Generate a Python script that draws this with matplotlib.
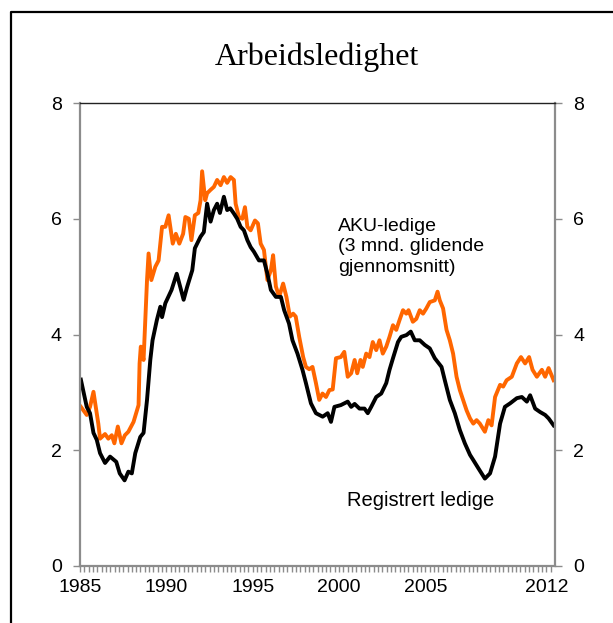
import matplotlib
matplotlib.use("Agg")
import matplotlib.pyplot as plt
from matplotlib.lines import Line2D

plt.rcParams['font.family'] = ['Liberation Sans', 'DejaVu Sans']

# registrert ledige (black)
reg_year = [1985.05, 1985.39, 1985.58, 1985.78, 1985.97, 1986.16, 1986.45, 1986.74, 1987.1, 1987.3,
            1987.58, 1987.8, 1988.0, 1988.2, 1988.49, 1988.68, 1988.88, 1989.07, 1989.2, 1989.45,
            1989.65, 1989.75, 1989.94, 1990.3, 1990.6, 1991.0, 1991.2, 1991.5, 1991.65, 1991.98,
            1992.17, 1992.36, 1992.56, 1992.75, 1992.94, 1993.1, 1993.33, 1993.52, 1993.7, 1993.91,
            1994.1, 1994.3, 1994.49, 1994.69, 1994.88, 1995.07, 1995.36, 1995.65, 1995.85, 1996.05,
            1996.34, 1996.63, 1996.82, 1997.1, 1997.3, 1997.59, 1997.88, 1998.08, 1998.37, 1998.66,
            1999.05, 1999.34, 1999.53, 1999.73, 2000.1, 2000.5, 2000.7, 2000.9, 2001.18, 2001.47,
            2001.66, 2001.86, 2002.15, 2002.44, 2002.73, 2002.92, 2003.12, 2003.41, 2003.6, 2003.9,
            2004.15, 2004.38, 2004.67, 2004.96, 2005.25, 2005.54, 2005.93, 2006.12, 2006.41, 2006.7,
            2006.99, 2007.28, 2007.58, 2007.77, 2008.06, 2008.44, 2008.74, 2009.03, 2009.32, 2009.6,
            2009.9, 2010.29, 2010.58, 2010.87, 2011.06, 2011.35, 2011.64, 2011.93, 2012.13, 2012.42]
reg_val = [3.22, 2.75, 2.64, 2.3, 2.18, 1.95, 1.78, 1.89, 1.8, 1.6,
           1.48, 1.63, 1.6, 1.95, 2.23, 2.3, 2.87, 3.56, 3.9, 4.25,
           4.48, 4.3, 4.54, 4.77, 5.05, 4.6, 4.82, 5.11, 5.49, 5.69,
           5.77, 6.26, 5.95, 6.15, 6.26, 6.1, 6.38, 6.15, 6.18, 6.09,
           6.0, 5.86, 5.8, 5.63, 5.51, 5.43, 5.28, 5.28, 5.05, 4.77,
           4.65, 4.65, 4.42, 4.19, 3.9, 3.67, 3.39, 3.16, 2.81, 2.64,
           2.58, 2.64, 2.49, 2.75, 2.78, 2.84, 2.75, 2.8, 2.72, 2.72,
           2.64, 2.75, 2.92, 2.98, 3.16, 3.39, 3.59, 3.87, 3.96, 3.99,
           4.05, 3.9, 3.9, 3.82, 3.76, 3.59, 3.44, 3.21, 2.87, 2.64,
           2.35, 2.12, 1.92, 1.83, 1.69, 1.51, 1.6, 1.89, 2.46, 2.75,
           2.81, 2.9, 2.92, 2.84, 2.95, 2.72, 2.66, 2.61, 2.55, 2.43]

# AKU-ledige, 3 mnd. glidende gjennomsnitt (orange)
aku_year = [1985.05, 1985.39, 1985.58, 1985.78, 1986.06, 1986.16, 1986.45, 1986.64, 1986.84, 1986.99,
            1987.19, 1987.4, 1987.6, 1987.8, 1988.1, 1988.39, 1988.45, 1988.52, 1988.68, 1988.88,
            1988.97, 1989.13, 1989.36, 1989.55, 1989.75, 1989.94, 1990.13, 1990.37, 1990.55, 1990.75,
            1990.97, 1991.1, 1991.3, 1991.45, 1991.65, 1991.85, 1991.98, 1992.07, 1992.25, 1992.36,
            1992.56, 1992.75, 1992.94, 1993.14, 1993.33, 1993.52, 1993.72, 1993.91, 1994.01, 1994.2,
            1994.4, 1994.55, 1994.69, 1994.88, 1995.13, 1995.3, 1995.46, 1995.65, 1995.85, 1996.05,
            1996.18, 1996.34, 1996.53, 1996.76, 1996.95, 1997.15, 1997.34, 1997.49, 1997.69, 1997.92,
            1998.08, 1998.27, 1998.46, 1998.66, 1998.85, 1999.04, 1999.24, 1999.44, 1999.63, 1999.82,
            2000.1, 2000.3, 2000.5, 2000.7, 2000.9, 2001.05, 2001.24, 2001.37, 2001.57, 2001.76,
            2001.95, 2002.15, 2002.34, 2002.53, 2002.73, 2002.92, 2003.12, 2003.31, 2003.5, 2003.7,
            2003.89, 2004.02, 2004.27, 2004.47, 2004.67, 2004.86, 2005.05, 2005.25, 2005.54, 2005.7,
            2005.83, 2006.02, 2006.22, 2006.41, 2006.6, 2006.8, 2006.99, 2007.18, 2007.38, 2007.58,
            2007.77, 2007.96, 2008.15, 2008.44, 2008.64, 2008.83, 2009.03, 2009.32, 2009.5, 2009.7,
            2010.0, 2010.29, 2010.53, 2010.77, 2011.0, 2011.2, 2011.45, 2011.74, 2011.93, 2012.13,
            2012.42]
aku_val = [2.75, 2.61, 2.75, 3.01, 2.46, 2.2, 2.28, 2.2, 2.26, 2.12,
           2.41, 2.12, 2.26, 2.32, 2.49, 2.78, 3.5, 3.79, 3.56, 4.94,
           5.4, 4.94, 5.17, 5.28, 5.86, 5.86, 6.06, 5.57, 5.74, 5.57,
           5.74, 6.03, 6.0, 5.63, 6.06, 6.1, 6.32, 6.82, 6.32, 6.44,
           6.5, 6.55, 6.67, 6.58, 6.72, 6.62, 6.72, 6.67, 6.26, 6.03,
           6.0, 6.2, 5.86, 5.8, 5.97, 5.92, 5.57, 5.46, 4.94, 5.11,
           5.37, 4.83, 4.65, 4.88, 4.65, 4.31, 4.36, 4.31, 3.96, 3.61,
           3.44, 3.4, 3.44, 3.16, 2.87, 2.98, 2.92, 3.04, 3.05, 3.59,
           3.61, 3.7, 3.27, 3.33, 3.56, 3.33, 3.56, 3.44, 3.67, 3.61,
           3.87, 3.73, 3.9, 3.67, 3.79, 3.96, 4.16, 4.08, 4.25, 4.42,
           4.36, 4.42, 4.22, 4.27, 4.42, 4.36, 4.45, 4.56, 4.59, 4.74,
           4.59, 4.45, 4.08, 3.9, 3.67, 3.27, 3.04, 2.87, 2.69, 2.55,
           2.46, 2.52, 2.46, 2.32, 2.52, 2.43, 2.92, 3.13, 3.1, 3.21,
           3.27, 3.5, 3.61, 3.5, 3.61, 3.39, 3.27, 3.39, 3.27, 3.42,
           3.21]

year_ticks = [1985, 1990, 1995, 2000, 2005, 2012]
y_ticks = [0, 2, 4, 6, 8]

fig = plt.figure(figsize=(6.13, 6.23), dpi=100)
ax = fig.add_axes([80/613, 1 - 566/623, 475/613, 463/623])

ax.plot(aku_year, aku_val, color='#FF6600', lw=2.8, solid_joinstyle='round')
ax.plot(reg_year, reg_val, color='black', lw=2.8, solid_joinstyle='round')

ax.set_xlim(1985, 2012.5)
ax.set_ylim(0, 8)
ax.set_yticks(y_ticks)
ax.set_xticks(year_ticks)
ax.set_xticklabels([str(y) for y in year_ticks])
ax.set_xticks([1985 + q * 0.25 for q in range(1, 110)], minor=True)

gray = '#8c8c8c'
for s in ['left', 'right', 'bottom']:
    ax.spines[s].set_color(gray)
    ax.spines[s].set_linewidth(1.6)
ax.spines['top'].set_color('#222222')
ax.spines['top'].set_linewidth(1.0)

ax.tick_params(axis='x', which='both', direction='out', length=4, width=1, color=gray,
               labelsize=14, pad=5)
ax.tick_params(axis='y', direction='out', length=5, width=1, color=gray, labelsize=14,
               pad=8, right=True, labelright=True)

ax.text(1999.95, 6.02, 'AKU-ledige\n(3 mnd. glidende\ngjennomsnitt)', fontsize=14,
        va='top', ha='left', linespacing=1.3)
ax.text(2000.45, 1.14, 'Registrert ledige', fontsize=14.5, va='center', ha='left')

fig.text(0.517, 0.908, 'Arbeidsledighet', fontsize=23, family='Liberation Serif',
         ha='center', va='center')

# frame round the figure
fx = 11 / 613
fy = 1 - 12 / 623
fig.add_artist(Line2D([fx, fx, 1.0], [0, fy, fy], color='black', lw=1.6,
                      transform=fig.transFigure))

fig.savefig('out.png', dpi=100)
